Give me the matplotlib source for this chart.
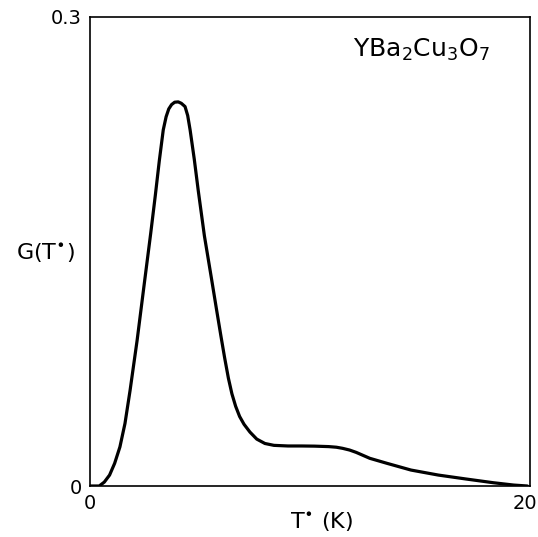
import matplotlib
matplotlib.use("Agg")
import matplotlib.pyplot as plt
import matplotlib.transforms as mtransforms

# Temperature T* (K) and distribution G(T*)
T = [0.0, 0.42, 0.65, 0.89, 1.12, 1.36, 1.59, 1.82, 2.14, 2.45, 2.76, 2.97, 3.15,
     3.33, 3.46, 3.58, 3.71, 3.85, 4.01, 4.15, 4.32, 4.44, 4.55, 4.74, 4.92,
     5.2, 5.53, 5.75, 5.95, 6.12, 6.29, 6.45, 6.62, 6.8, 7.0, 7.27, 7.58, 7.95, 8.36, 9.0,
     9.61, 10.2, 10.85, 11.2, 11.48, 11.8, 12.1, 12.72, 13.5, 14.59, 15.83,
     17.08, 18.33, 19.26, 19.88]
G = [0.0, 0.0, 0.0025, 0.007, 0.0145, 0.025, 0.040, 0.061, 0.093, 0.1275, 0.1617, 0.186, 0.208,
     0.2278, 0.2362, 0.2412, 0.2440, 0.2455, 0.2457, 0.2448, 0.2427, 0.2370, 0.2278, 0.209, 0.189,
     0.160, 0.132, 0.113, 0.096, 0.082, 0.069, 0.059, 0.051, 0.0445, 0.0395, 0.0345, 0.030, 0.0272,
     0.0260, 0.0256,
     0.0256, 0.0255, 0.0252, 0.0248, 0.0241, 0.0230, 0.0215, 0.0177, 0.0145, 0.0102, 0.0070,
     0.0045, 0.0021, 0.0006, 0.0]

xlim = (0, 20)
ylim = (0, 0.3)
xticks = [0, 20]
xticklabels = ["0", "20"]
yticks = [0, 0.3]
yticklabels = ["0", "0.3"]

fig = plt.figure(figsize=(5.38, 5.37), dpi=100)
ax = fig.add_axes([90/538, 51/537, 440/538, 469/537])
ax.plot(T, G, color="black", lw=2.3, solid_capstyle="round", solid_joinstyle="round")
ax.set_xlim(*xlim)
ax.set_ylim(*ylim)
ax.set_xticks(xticks)
ax.set_xticklabels(xticklabels, fontsize=14)
ax.set_yticks(yticks)
ax.set_yticklabels(yticklabels, fontsize=14)
ax.tick_params(length=0, pad=6)
for s in ax.spines.values():
    s.set_linewidth(1.2)

# nudge the "20" label slightly left so it stays inside the image
lab20 = ax.xaxis.get_major_ticks()[-1].label1
lab20.set_transform(lab20.get_transform() +
                    mtransforms.ScaledTranslation(-5/100, 0, fig.dpi_scale_trans))

fig.text(322/538, 1 - 522/537, "T$^{\\bullet}$ (K)", fontsize=16, ha="center", va="center")
fig.text(45/538, 1 - 253/537, "G(T$^{\\bullet}$)", fontsize=16, ha="center", va="center")
fig.text(490/538, 1 - 50/537, "YBa$_2$Cu$_3$O$_7$", fontsize=18,
         ha="right", va="center")

fig.savefig("out.png", dpi=100)
